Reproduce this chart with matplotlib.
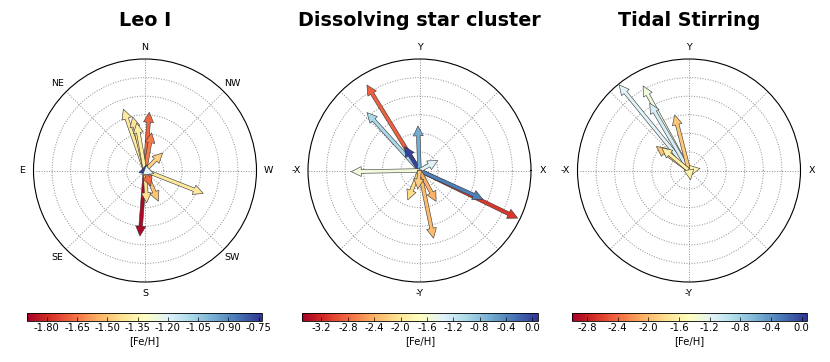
import numpy as np
import matplotlib
matplotlib.use('Agg')
import matplotlib.pyplot as plt
import matplotlib.colors as mcolors
import matplotlib.cm as cm

# --- dati (angolo in gradi, lunghezza, [Fe/H]) ---
titles = ['Leo I', 'Dissolving star cluster', 'Tidal Stirring']

leo_ang = [265.6, 85.8, 80.0, 109.4, 102.9, 99.9, 45.0, 338.5, 273.0, 293.5, 290.0, 200.0, 340.0]
leo_len = [3.54, 3.14, 2.06, 3.50, 2.96, 2.60, 1.34, 3.37, 1.74, 1.80, 0.90, 0.35, 0.50]
leo_feh = [-1.88, -1.68, -1.64, -1.40, -1.42, -1.38, -1.47, -1.40, -1.43, -1.50, -1.68, -0.75, -1.20]

dsc_ang = [334.1, 335.6, 121.6, 132.2, 122.0, 92.0, 28.6, 181.0, 281.7, 298.3, 248.3, 265.0]
dsc_len = [5.87, 3.74, 5.40, 4.21, 1.52, 2.40, 1.12, 3.67, 3.72, 1.89, 1.70, 1.00]
dsc_feh = [-3.10, -0.35, -2.85, -0.99, 0.00, -0.64, -1.35, -1.53, -2.32, -2.40, -2.10, -2.20]

tid_ang = [129.2, 118.5, 120.3, 104.4, 143.7, 140.0, 10.0, 280.0]
tid_len = [5.95, 5.18, 4.19, 3.09, 2.18, 1.90, 0.60, 0.50]
tid_feh = [-1.16, -1.31, -1.10, -1.93, -1.95, -1.60, -1.55, -1.60]

# etichette angolari (0, 45, ..., 315 gradi)
leo_lab = ['W', 'NW', 'N', 'NE', 'E', 'SE', 'S', 'SW']
xy_lab = ['X', '', 'Y', '', '-X', '', '-Y', '']

# scale di colore
leo_clim = [-1.90, -0.735]
dsc_clim = [-3.50, 0.08]
tid_clim = [-3.00, 0.065]
leo_ticks = [-1.80, -1.65, -1.50, -1.35, -1.20, -1.05, -0.90, -0.75]
dsc_ticks = [-3.2, -2.8, -2.4, -2.0, -1.6, -1.2, -0.8, -0.4, 0.0]
tid_ticks = [-2.8, -2.4, -2.0, -1.6, -1.2, -0.8, -0.4, 0.0]

panels = [
    (leo_ang, leo_len, leo_feh, leo_lab, leo_clim, leo_ticks, '%.2f'),
    (dsc_ang, dsc_len, dsc_feh, xy_lab, dsc_clim, dsc_ticks, '%.1f'),
    (tid_ang, tid_len, tid_feh, xy_lab, tid_clim, tid_ticks, '%.1f'),
]

W, H = 830., 362.
fig = plt.figure(figsize=(8.3, 3.62), dpi=100)

centers = [145.0, 419.5, 689.0]   # centri orizzontali dei pannelli (px)
R = 111.5                          # raggio in px
cy = 170.5
cbar_x = [(26.7, 261.7), (301.7, 537.7), (571.7, 806.7)]

cmap = plt.get_cmap('RdYlBu')

for i, (ang, ln, feh, lab, clim, ticks, fmt) in enumerate(panels):
    cx = centers[i]
    ax = fig.add_axes([(cx - R) / W, (H - cy - R) / H, 2 * R / W, 2 * R / H], projection='polar')
    ax.set_ylim(0, 6)
    ax.set_yticks([1, 2, 3, 4, 5])
    ax.set_yticklabels([])
    ax.set_xticks(np.radians(np.arange(0, 360, 45)))
    ax.set_xticklabels(lab, fontsize=6.8)
    ax.tick_params(axis='x', pad=-2)
    ax.grid(True, color='0.55', linestyle=':', linewidth=0.7)
    ax.spines['polar'].set_linewidth(0.8)

    norm = mcolors.Normalize(vmin=clim[0], vmax=clim[1])
    for a, r, f in zip(ang, ln, feh):
        ax.annotate('', xy=(np.radians(a), r), xytext=(0, 0),
                    arrowprops=dict(arrowstyle='simple,head_length=0.55,head_width=0.55,tail_width=0.2',
                                    fc=cmap(norm(f)), ec='0.2', lw=0.4,
                                    shrinkA=0, shrinkB=0, mutation_scale=13))

    fig.text(cx / W, 1 - 20 / H, titles[i], ha='center', va='center',
             fontsize=13.8, fontweight='bold')

    x0, x1 = cbar_x[i]
    cax = fig.add_axes([x0 / W, (H - 320.7) / H, (x1 - x0) / W, 8 / H])
    sm = cm.ScalarMappable(norm=norm, cmap=cmap)
    cb = fig.colorbar(sm, cax=cax, orientation='horizontal', ticks=ticks, format=fmt)
    cb.outline.set_linewidth(0.6)
    cax.tick_params(labelsize=7.2, direction='in', length=3, width=0.5, pad=2)
    cb.set_label('[Fe/H]', fontsize=7.2, labelpad=2)

plt.savefig('out.png', dpi=100)
